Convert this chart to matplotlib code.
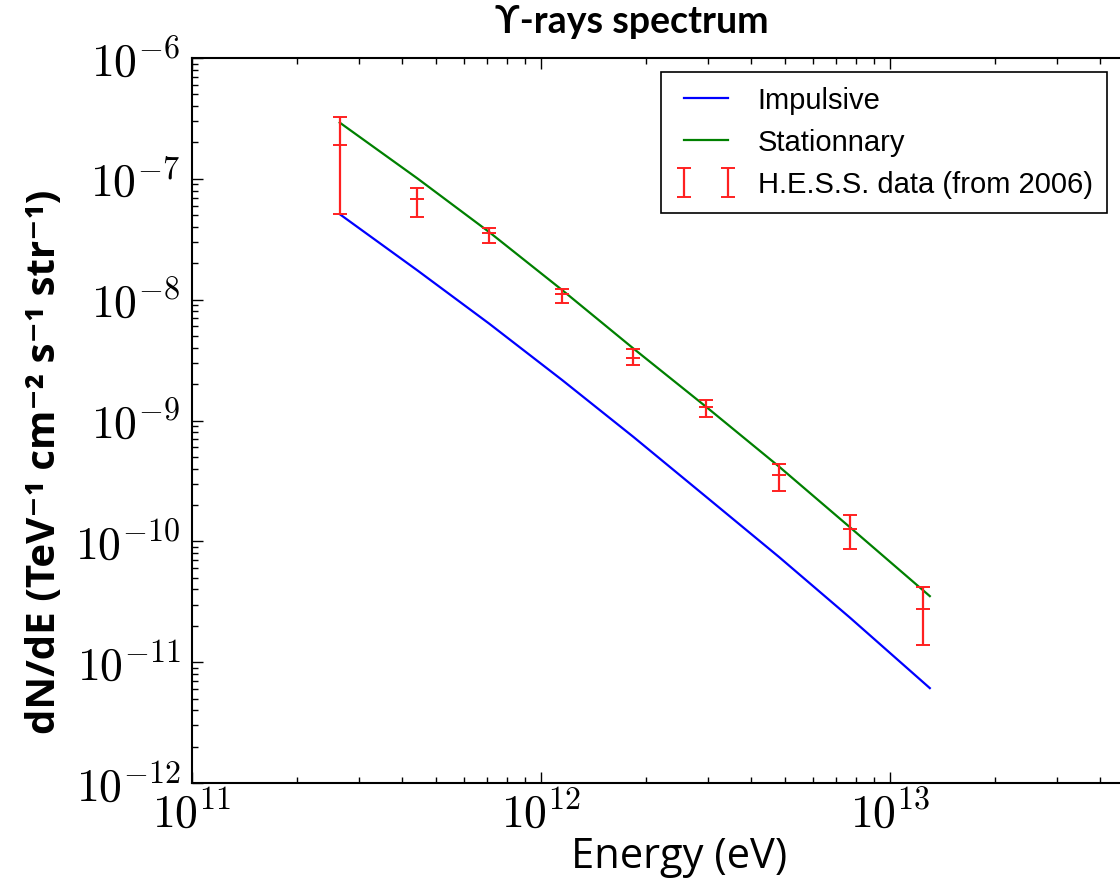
import numpy as np
import matplotlib
matplotlib.use("Agg")
import matplotlib.pyplot as plt
from matplotlib.ticker import FuncFormatter

plt.rcParams['mathtext.fontset'] = 'cm'

# H.E.S.S. points (eV, TeV^-1 cm^-2 s^-1 str^-1)
energy = [2.65e11, 4.42e11, 7.1e11, 1.15e12, 1.84e12, 2.97e12, 4.81e12, 7.67e12, 1.24e13]
flux = [1.9e-7, 6.76e-8, 3.58e-8, 1.11e-8, 3.29e-9, 1.30e-9, 3.53e-10, 1.26e-10, 2.73e-11]
flux_hi = [3.25e-7, 8.43e-8, 3.89e-8, 1.22e-8, 3.9e-9, 1.49e-9, 4.4e-10, 1.66e-10, 4.15e-11]
flux_lo = [5.1e-8, 4.8e-8, 2.92e-8, 9.3e-9, 2.88e-9, 1.06e-9, 2.6e-10, 8.6e-11, 1.40e-11]

# model curves
model_e = [2.65e11, 4.42e11, 7.1e11, 1.15e12, 1.84e12, 2.97e12, 4.81e12, 7.67e12, 1.30e13]
impulsive = [5.1e-8, 1.75e-8, 6.34e-9, 2.16e-9, 7.31e-10, 2.34e-10, 7.41e-11, 2.34e-11, 6.1e-12]
stationnary = [2.92e-7, 1.01e-7, 3.63e-8, 1.20e-8, 3.94e-9, 1.30e-9, 4.15e-10, 1.31e-10, 3.52e-11]

fig = plt.figure(figsize=(11.2, 8.83), dpi=100)
ax = fig.add_axes([192/1120, 100/883, (1134-192)/1120, 725/883])

ax.plot(model_e, impulsive, color='#0000ff', lw=1.6, label='Impulsive')
ax.plot(model_e, stationnary, color='#008000', lw=1.6, label='Stationnary')
yerr = [np.array(flux) - np.array(flux_lo), np.array(flux_hi) - np.array(flux)]
ax.errorbar(energy, flux, yerr=yerr, fmt='none', ecolor='#ff2020', elinewidth=1.6,
            capsize=5, capthick=1.4, label='H.E.S.S. data (from 2006)')
ax.plot(energy, flux, ls='none', marker='_', ms=10, mew=1.4, color='#ff2020')

ax.set_xscale('log')
ax.set_yscale('log')
ax.set_xlim(1e11, 5e13)
ax.set_ylim(1e-12, 1e-6)

powfmt = FuncFormatter(lambda v, p: r'$10^{%d}$' % round(np.log10(v)))
ax.xaxis.set_major_formatter(powfmt)
ax.yaxis.set_major_formatter(powfmt)

ax.tick_params(which='both', direction='in', top=True, right=True, labelsize=33, width=1)
ax.tick_params(which='major', length=8)
ax.tick_params(which='minor', length=4)
ax.tick_params(axis='x', pad=6)
ax.tick_params(axis='y', pad=8)
for s in ax.spines.values():
    s.set_linewidth(1.5)

leg = ax.legend(loc='upper left', bbox_to_anchor=((661-192)/942, (783-72)/725),
                borderaxespad=0, numpoints=2, fancybox=False, edgecolor='black', framealpha=1,
                prop={'family': 'Liberation Sans', 'size': 21}, handlelength=2.1,
                borderpad=0.5, labelspacing=0.48, handletextpad=0.72)
leg.get_frame().set_linewidth(1.2)

fig.text(632/1120, 1 - 22/883, 'ϒ-rays spectrum', ha='center', va='center',
         fontsize=27, fontweight='bold', family=['Lato', 'DejaVu Sans'])
fig.text(45/1120, 1 - 462/883, 'dN/dE (TeV⁻¹ cm⁻² s⁻¹ str⁻¹)',
         rotation=90, ha='center', va='center', fontsize=29, fontweight='bold',
         family=['Open Sans', 'DejaVu Sans'])
fig.text(679/1120, 1 - 857/883, 'Energy (eV)', ha='center', va='center',
         fontsize=30, family=['Open Sans', 'DejaVu Sans'])

fig.savefig('out.png', dpi=100)
